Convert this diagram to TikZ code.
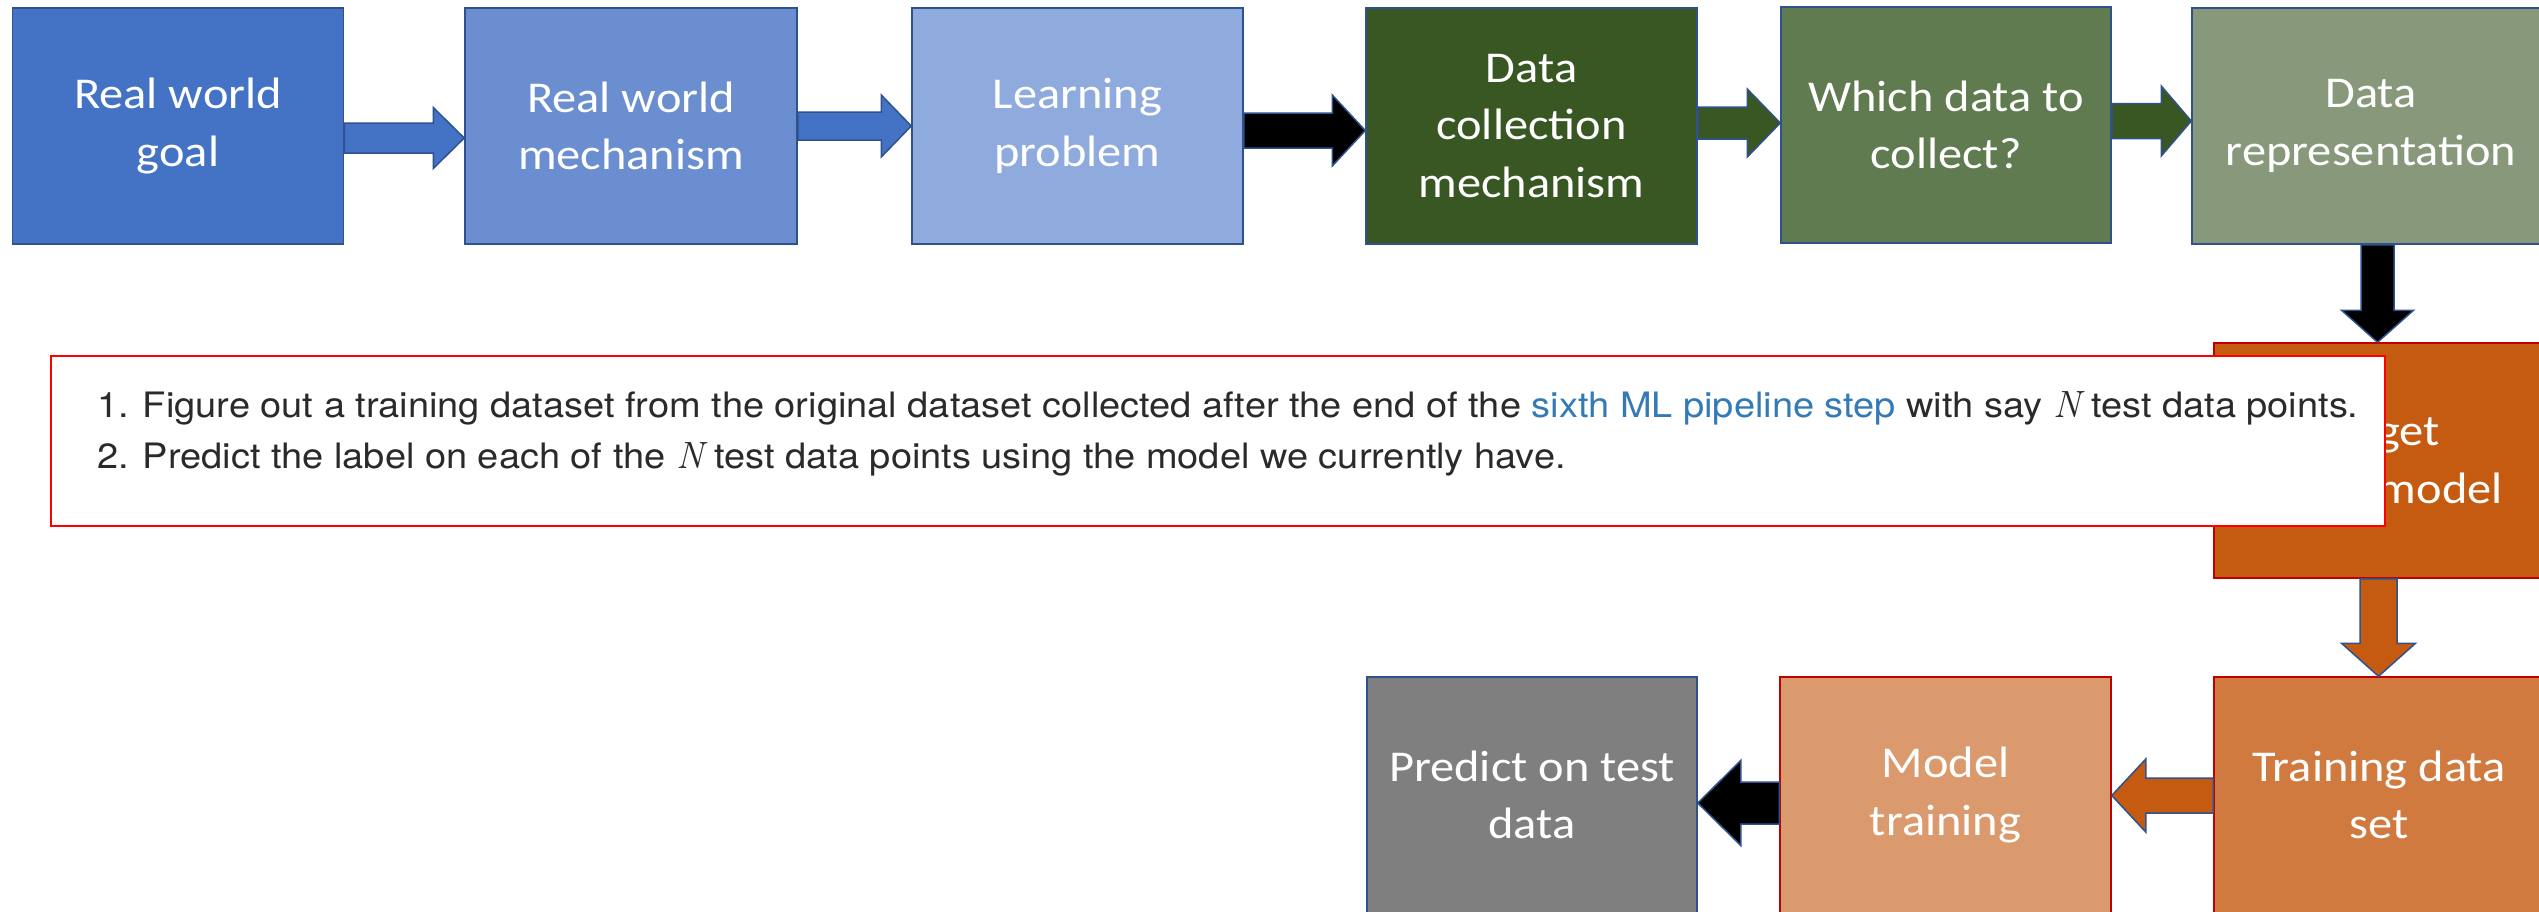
\documentclass[tikz,border=0pt]{standalone}
\usepackage{fontspec}
\setmainfont{Carlito}[FakeStretch=1.1]
\newfontfamily\helv{TeX Gyre Heros}[FakeStretch=1.085]
\newfontfamily\lmr{Latin Modern Roman}
\newcommand\Nvar{{\lmr\itshape\fontsize{38}{42}\selectfont N}}
\usetikzlibrary{calc}
\definecolor{blueA}{HTML}{4472C4}
\definecolor{blueB}{HTML}{6A8ECF}
\definecolor{blueC}{HTML}{8FAADC}
\definecolor{greenA}{HTML}{385723}
\definecolor{greenB}{HTML}{607B4F}
\definecolor{greenC}{HTML}{87997A}
\definecolor{orangeA}{HTML}{C55A11}
\definecolor{orangeB}{HTML}{D07A40}
\definecolor{orangeC}{HTML}{DA9A6E}
\definecolor{grayA}{HTML}{7F7F7F}
\definecolor{bordblue}{HTML}{2F528F}
\definecolor{bordred}{HTML}{C00000}
\definecolor{txtgray}{HTML}{2A2A2A}
\definecolor{linkblue}{HTML}{337AB7}
% right-pointing block arrow: from, to, y (px, down), shaft half, head half, head length, style
\newcommand\rarr[7]{\draw[arr,#7] let \p1=(#1.east), \p2=(#2.west) in
  (\x1,{-(#3-#4)*1pt}) -- ({\x2-#6*1pt},{-(#3-#4)*1pt}) -- ({\x2-#6*1pt},{-(#3-#5)*1pt})
  -- (\x2,{-#3*1pt}) -- ({\x2-#6*1pt},{-(#3+#5)*1pt}) -- ({\x2-#6*1pt},{-(#3+#4)*1pt})
  -- (\x1,{-(#3+#4)*1pt}) -- cycle;}
\newcommand\larr[7]{\draw[arr,#7] let \p1=(#1.west), \p2=(#2.east) in
  (\x1,{-(#3-#4)*1pt}) -- ({\x2+#6*1pt},{-(#3-#4)*1pt}) -- ({\x2+#6*1pt},{-(#3-#5)*1pt})
  -- (\x2,{-#3*1pt}) -- ({\x2+#6*1pt},{-(#3+#5)*1pt}) -- ({\x2+#6*1pt},{-(#3+#4)*1pt})
  -- (\x1,{-(#3+#4)*1pt}) -- cycle;}
\newcommand\darr[7]{\draw[arr,#7] let \p1=(#1.south), \p2=(#2.north) in
  ({(#3-#4)*1pt},\y1) -- ({(#3-#4)*1pt},{\y2+#6*1pt}) -- ({(#3-#5)*1pt},{\y2+#6*1pt})
  -- ({#3*1pt},\y2) -- ({(#3+#5)*1pt},{\y2+#6*1pt}) -- ({(#3+#4)*1pt},{\y2+#6*1pt})
  -- ({(#3+#4)*1pt},\y1) -- cycle;}
\begin{document}
\begin{tikzpicture}[x=1pt,y=1pt,
  box/.style={draw=bordblue, line width=1.5pt, minimum width=331pt, minimum height=236pt,
    inner sep=0pt, align=center, text=white, font=\fontsize{44}{57.5}\selectfont},
  redbox/.style={box, draw=bordred},
  arr/.style={draw=bordblue, line width=1.5pt, line join=miter},
  txt/.style={anchor=base west, inner sep=0pt, text=txtgray, font=\helv\fontsize{35}{42}\selectfont}]
\useasboundingbox[fill=white] (0,0) rectangle (2539,-911);
% top row
\node[box, fill=blueA] (b1) at (178,-126) {Real world\\goal};
\node[box, fill=blueB, minimum width=332pt] (b2) at (631,-126) {Real world\\mechanism};
\node[box, fill=blueC] (b3) at (1077.5,-126) {Learning\\problem};
\node[box, fill=greenA] (b4) at (1531.5,-126) {Data\\collection\\mechanism};
\node[box, fill=greenB, minimum width=330pt] (b5) at (1946,-125) {Which data to\\collect?};
\node[box, fill=greenC, minimum width=358pt] (b6) at (2371,-126) {Data\\representation};
% right column / bottom row
\node[redbox, fill=orangeA, minimum width=330pt, minimum height=235pt] (b7) at (2379,-460.5) {Target\\linear model};
\node[redbox, fill=orangeB, minimum width=330pt] (b8) at (2379,-795) {Training data\\set};
\node[redbox, fill=orangeC] (b9) at (1945.5,-795) {Model\\training};
\node[box, fill=grayA, minimum width=330pt] (b10) at (1532,-795) {Predict on test\\data};
% arrows
\rarr{b1}{b2}{138}{15}{30.5}{31}{fill=blueA}
\rarr{b2}{b3}{126}{14}{31}{30}{fill=blueA}
\rarr{b3}{b4}{130.5}{17.5}{35.5}{33}{fill=black}
\rarr{b4}{b5}{123}{16}{34}{33}{fill=greenA}
\rarr{b5}{b6}{121}{17.5}{35}{30}{fill=greenA}
\darr{b6}{b7}{2377.5}{16.5}{36}{32}{fill=black}
\darr{b7}{b8}{2378.5}{18.5}{37}{33}{fill=orangeA}
\larr{b8}{b9}{795.5}{17.5}{36.5}{34}{fill=orangeA}
\larr{b9}{b10}{803}{21}{42.5}{43}{fill=black}
% overlay text box
\node[draw=red, line width=2pt, fill=white, minimum width=2334pt, minimum height=170pt, inner sep=0pt] (tb) at (1218,-441) {};
\node[txt] (l1) at (97,-417) {1. Figure out a training dataset from the original dataset collected after the end of the \textcolor{linkblue}{sixth ML pipeline step} with say \Nvar\ test data points.};
\node[txt] (l2) at (97,-468) {2. Predict the label on each of the \Nvar\ test data points using the model we currently have.};
\end{tikzpicture}
\end{document}
